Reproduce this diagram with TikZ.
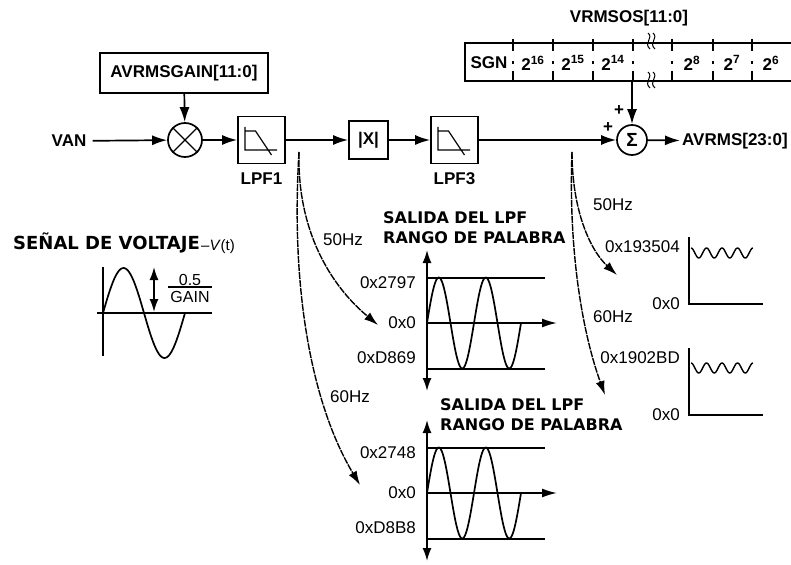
\documentclass[tikz,border=0pt]{standalone}
\usepackage{fontspec}
\setmainfont{Liberation Sans}
\newfontfamily\dejavu{DejaVu Sans}
\usetikzlibrary{arrows.meta,positioning}

\tikzset{
  lbl/.style={font=\fontsize{17}{18}\selectfont\bfseries, inner sep=0pt},
  val/.style={font=\fontsize{17}{18}\selectfont, inner sep=0pt},
  ttl/.style={font=\dejavu\fontsize{16}{18}\selectfont\bfseries, inner sep=0pt, anchor=west},
  blk/.style={draw, line width=1.7pt, inner sep=0pt},
  sig/.style={line width=1.7pt, -{Latex[length=15pt,width=10pt]}},
  freq/.style={line width=1.4pt, dash pattern=on 7pt off 1pt, -{Latex[length=14pt,width=9pt]}},
  axis/.style={line width=1.7pt},
  wave/.style={line width=1.7pt, smooth},
  bothtips/.style={{Latex[length=13pt,width=9pt]}-{Latex[length=13pt,width=9pt]}},
}

% low-pass symbol inside a block
\newcommand{\lpfmark}[1]{%
  \draw[line width=1.2pt, shift={(#1.center)}]
    (-16.5,-13) -- (-16.5,10) -- (15.5,10)
    (-16.5,-9) -- (-6,-9) -- (10,15);}

\begin{document}
\begin{tikzpicture}[x=1pt, y=-1pt]
  \useasboundingbox (0,0) rectangle (791,564);

  % Signal chain
  \node[lbl] (van) at (69,141) {VAN};
  \node[blk, circle, minimum size=34pt] (mul) at (185,140) {};
  \draw[line width=1.4pt] (mul.north west) -- (mul.south east)
                          (mul.north east) -- (mul.south west);
  \node[blk, lbl, minimum width=168pt, minimum height=40pt] (gain) at (184,73) {AVRMSGAIN[11:0]};
  \node[blk, minimum size=47pt] (lpf1) at (261.5,140) {};
  \lpfmark{lpf1}
  \node[lbl, below=8pt of lpf1] (lpf1lbl) {LPF1};
  \node[blk, lbl, minimum width=39pt, minimum height=38pt] (absx) at (368.5,140) {|X|};
  \node[blk, minimum size=47pt] (lpf3) at (454.5,140) {};
  \lpfmark{lpf3}
  \node[lbl, below=8pt of lpf3] (lpf3lbl) {LPF3};
  \node[blk, lbl, circle, minimum size=30pt] (sum) at (632,140) {\fontsize{19}{19}\selectfont Σ};
  \node[lbl, anchor=west] (avrms) at (682,141) {AVRMS[23:0]};
  \node[lbl] (plusa) at (608,128) {+};
  \node[lbl] (plusb) at (619,111) {+};

  % Offset register
  \node[blk, minimum width=332pt, minimum height=38pt] (reg) at (631,62) {};
  \node[lbl] (regttl) at (629,18) {VRMSOS[11:0]};
  \foreach \x in {513,553,593,633,672,713,752}
    \draw[line width=1.4pt] (\x,39) -- (\x,51) (\x,61) -- (\x,64) (\x,71) -- (\x,81);
  \foreach \x/\bit in {489/SGN, 533/2\textsuperscript{16}, 573/2\textsuperscript{15},
                       613/2\textsuperscript{14}, 692/2\textsuperscript{8},
                       732/2\textsuperscript{7}, 771/2\textsuperscript{6}}
    \node[lbl] (bit\x) at (\x,63) {\bit};
  \foreach \yb in {33,72}
    \foreach \dx in {0,5}
      \draw[line width=1pt] (648+\dx,\yb) .. controls (654+\dx,\yb+5) and (643+\dx,\yb+10) .. (650+\dx,\yb+16);

  \draw[sig, shorten <=6pt] (van) -- (mul);
  \draw[sig] (gain) -- (mul);
  \draw[sig] (mul) -- (lpf1);
  \draw[sig] (lpf1) -- (absx);
  \draw[sig] (absx) -- (lpf3);
  \draw[sig] (lpf3) -- (sum);
  \draw[sig, shorten >=2pt] (sum) -- (avrms);
  \draw[sig] (sum |- reg.south) -- (sum);

  % Branches to the plots
  \coordinate (tap1) at (299,152);
  \coordinate (tap3) at (572,152);
  \coordinate (to50a) at (378,325);
  \coordinate (to60a) at (360,485);
  \coordinate (to50b) at (617,275);
  \coordinate (to60b) at (605,395);
  \draw[freq] (tap1) .. controls (297,230) and (330,285) .. (to50a);
  \draw[freq] (tap1) .. controls (290,300) and (315,410) .. (to60a);
  \draw[freq] (tap3) .. controls (572,210) and (590,250) .. (to50b);
  \draw[freq] (tap3) .. controls (568,260) and (585,340) .. (to60b);
  \node[val] (f50a) at (343,240) {50Hz};
  \node[val] (f60a) at (350,397) {60Hz};
  \node[val] (f50b) at (613,205) {50Hz};
  \node[val] (f60b) at (613,317) {60Hz};

  % Input voltage
  \node[ttl, font=\dejavu\fontsize{18}{20}\selectfont\bfseries] (vtitle) at (13,243) {SEÑAL DE VOLTAJE};
  \node[val, anchor=west, font=\fontsize{15}{17}\selectfont] (vt) at (201,247) {–\textit{V}(t)};
  \draw[axis] (103,267) -- (103,356);
  \draw[axis] (97,313) -- (212,313);
  \draw[wave] plot[domain=103:185, samples=60] (\x, {313 - 45*sin((\x-103)/82*360)});
  \draw[axis, bothtips] (154,267) -- (154,312);
  \node[val, font=\fontsize{16}{17}\selectfont] (half) at (190,280) {0.5};
  \draw[line width=1.4pt] (168,287) -- (212,287);
  \node[val, font=\fontsize{16}{17}\selectfont] (gainval) at (190,297) {GAIN};

  % LPF output plots
  \foreach \yz/\hi/\lo/\tx/\ty in {323/0x2797/0xD869/383/218, 493/0x2748/0xD8B8/440/405} {
    \node[ttl] (ta\yz) at (\tx,\ty) {SALIDA DEL LPF};
    \node[ttl] (tb\yz) at (\tx,\ty+19.5) {RANGO DE PALABRA};
    \draw[axis, bothtips] (427,\yz-73) -- (427,\yz+68);
    \draw[axis] (427,\yz-45) -- (545,\yz-45) (427,\yz+46) -- (545,\yz+46);
    \draw[axis, -{Latex[length=15pt,width=9pt]}] (427,\yz) -- (557,\yz);
    \draw[wave] plot[domain=427:521, samples=90] (\x, {\yz - 45.5*sin((\x-427)/47*360)});
    \node[val, anchor=east] (hi\yz) at (416,\yz-40) {\hi};
    \node[val, anchor=east] (zero\yz) at (416,\yz) {0x0};
    \node[val, anchor=east] (lo\yz) at (416,\yz+35) {\lo};
  }

  % Output plots
  \foreach \yz/\hi/\wc in {304/0x193504/51, 415/0x1902BD/47} {
    \draw[axis] (689,\yz-67) -- (689,\yz) -- (763,\yz);
    \draw[line width=1.4pt, smooth] plot[domain=691:753, samples=80] (\x, {\yz-\wc - 5*cos((\x-691)/15.5*360)});
    \node[val, anchor=east] (rms\yz) at (680,\yz-57) {\hi};
    \node[val, anchor=east] (rmszero\yz) at (680,\yz) {0x0};
  }
\end{tikzpicture}
\end{document}
